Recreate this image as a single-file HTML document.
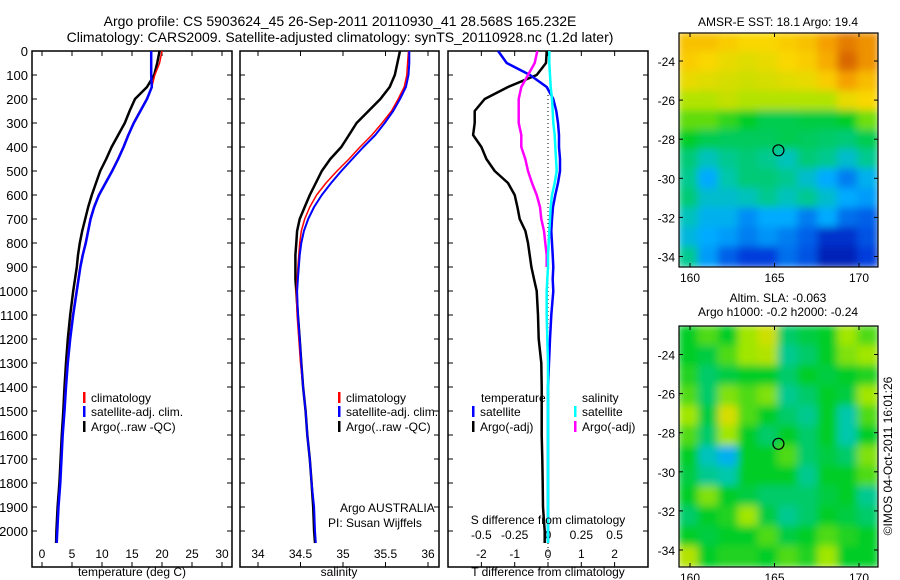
<!DOCTYPE html>
<html><head><meta charset="utf-8"><style>
body{margin:0;background:#fff;}
svg{display:block;font-family:"Liberation Sans",sans-serif;}
</style></head><body>
<svg id="c" width="900" height="580" viewBox="0 0 900 580" xmlns="http://www.w3.org/2000/svg">
<defs>
<filter id="bl" x="-5%" y="-5%" width="110%" height="110%"><feGaussianBlur stdDeviation="4"/></filter>
<clipPath id="cm1"><rect x="679" y="33" width="199" height="234"/></clipPath>
<clipPath id="cm2"><rect x="679" y="326" width="199" height="241"/></clipPath>
</defs>
<text x="340" y="26" font-size="14" text-anchor="middle">Argo profile: CS 5903624_45 26-Sep-2011 20110930_41 28.568S 165.232E</text>
<text x="340" y="42" font-size="14" text-anchor="middle">Climatology: CARS2009. Satellite-adjusted climatology: synTS_20110928.nc (1.2d later)</text>
<g id="g"></g>
<text x="340" y="512" font-size="12">Argo AUSTRALIA</text>
<text x="328" y="527" font-size="12">PI: Susan Wijffels</text>
<text x="548" y="524" font-size="12" text-anchor="middle">S difference from climatology</text>
<text x="132" y="576" font-size="12" text-anchor="middle">temperature (deg C)</text>
<text x="339" y="576" font-size="12" text-anchor="middle">salinity</text>
<text x="548" y="576" font-size="12" text-anchor="middle">T difference from climatology</text>
<text x="778" y="26" font-size="12" text-anchor="middle">AMSR-E SST: 18.1 Argo: 19.4</text>
<text x="778" y="302" font-size="12" text-anchor="middle">Altim. SLA: -0.063</text>
<text x="778" y="316" font-size="12" text-anchor="middle">Argo h1000: -0.2 h2000: -0.24</text>
<text transform="translate(892,456) rotate(-90)" font-size="12" text-anchor="middle">©IMOS 04-Oct-2011 16:01:26</text>
</svg>
<script>
const depths=[0,50,100,150,200,250,300,350,400,450,500,550,600,650,700,750,800,850,900,950,1000,1100,1200,1300,1400,1500,1600,1700,1800,1900,2000,2050];
const climT=[20.0,19.6,18.8,18.3,17.4,16.3,15.2,14.3,13.5,12.6,11.6,10.5,9.4,8.6,8.0,7.6,7.2,6.7,6.3,6.0,5.7,5.1,4.6,4.2,3.9,3.7,3.4,3.2,3.0,2.7,2.5,2.4];
const satT=[18.2,18.2,18.2,18.3,17.5,16.4,15.3,14.4,13.6,12.7,11.7,10.6,9.5,8.7,8.1,7.7,7.3,6.8,6.4,6.1,5.8,5.2,4.7,4.3,4.0,3.75,3.45,3.25,3.05,2.75,2.55,2.45];
const argoT=[19.6,19.2,18.7,17.5,15.5,14.6,13.8,12.7,11.6,10.7,9.7,9.0,8.3,7.7,7.2,6.7,6.3,6.0,5.8,5.5,5.2,4.7,4.3,4.0,3.75,3.55,3.3,3.1,2.9,2.6,2.4,2.35];
const climS=[35.77,35.76,35.75,35.72,35.65,35.57,35.46,35.34,35.2,35.07,34.93,34.8,34.69,34.61,34.55,34.51,34.49,34.48,34.47,34.46,34.45,34.46,34.48,34.5,34.53,34.56,34.58,34.61,34.63,34.66,34.67,34.68];
const satS=[35.78,35.78,35.77,35.74,35.67,35.59,35.49,35.38,35.24,35.11,34.98,34.86,34.75,34.66,34.59,34.54,34.51,34.49,34.48,34.47,34.46,34.47,34.49,34.51,34.53,34.56,34.58,34.61,34.63,34.66,34.67,34.68];
const argoS=[35.67,35.64,35.61,35.55,35.44,35.3,35.16,35.07,34.98,34.85,34.75,34.68,34.61,34.55,34.49,34.46,34.45,34.44,34.44,34.44,34.45,34.47,34.49,34.51,34.53,34.56,34.58,34.61,34.63,34.65,34.66,34.67];
const argoTd=[-0.04,-0.06,-0.34,-1.2,-1.9,-2.2,-2.2,-2.25,-2.0,-1.85,-1.6,-1.2,-1.0,-0.92,-0.85,-0.68,-0.6,-0.55,-0.5,-0.42,-0.34,-0.3,-0.28,-0.2,-0.19,-0.19,-0.19,-0.17,-0.16,-0.15,-0.1,-0.1];
const satTd=[-1.5,-1.24,-0.54,-0.04,0.16,0.25,0.3,0.33,0.33,0.36,0.36,0.3,0.22,0.15,0.12,0.1,0.12,0.14,0.16,0.14,0.16,0.1,0.06,0.03,0,0,0,0,0,0,0,0];
const argoSd=[-0.08,-0.1,-0.15,-0.2,-0.22,-0.22,-0.22,-0.2,-0.2,-0.17,-0.15,-0.12,-0.085,-0.06,-0.05,-0.03,-0.02,-0.01,-0.01,null,null,null,null,null,null,null,null,null,null,null,null,null];
const satSd=[0.01,0.01,0.015,0.02,0.03,0.035,0.04,0.05,0.055,0.06,0.065,0.05,0.03,0.02,0.015,0.01,0.005,0,0,-0.005,-0.01,-0.01,-0.005,0,0,0,0,0,0,0,0,0];
const depthTicks=[0,100,200,300,400,500,600,700,800,900,1000,1100,1200,1300,1400,1500,1600,1700,1800,1900,2000];
const tTicks=[0,5,10,15,20,25,30];
const sTicks=[34,34.5,35,35.5,36];
const tdTicks=[-2,-1,0,1,2];
const sdTicks=[-0.5,-0.25,0,0.25,0.5];
const sst=[[.74,.74,.72,.7,.7,.72,.74,.8,.85,.82],[.72,.7,.68,.67,.68,.7,.72,.78,.88,.82],[.68,.67,.66,.65,.66,.67,.68,.72,.8,.75],[.62,.62,.64,.62,.62,.62,.62,.62,.68,.7],[.56,.56,.53,.5,.47,.47,.48,.48,.5,.57],[.5,.47,.46,.46,.46,.47,.46,.45,.44,.47],[.44,.38,.42,.44,.42,.38,.44,.42,.36,.42],[.42,.3,.4,.44,.44,.42,.36,.3,.24,.32],[.44,.36,.36,.38,.42,.38,.42,.36,.3,.28],[.38,.32,.32,.26,.3,.3,.24,.3,.22,.2],[.34,.3,.28,.24,.27,.24,.2,.12,.12,.18],[.42,.28,.2,.15,.15,.22,.18,.08,.08,.15]];
const sla=[[.5,.55,.5,.6,.65,.45,.48,.5,.6,.55],[.5,.48,.55,.6,.62,.42,.45,.5,.58,.6],[.52,.45,.48,.5,.5,.45,.5,.48,.5,.52],[.55,.45,.58,.55,.58,.42,.45,.5,.48,.6],[.6,.48,.66,.55,.5,.45,.42,.5,.4,.55],[.55,.45,.6,.5,.45,.5,.45,.5,.4,.5],[.5,.38,.32,.5,.5,.55,.45,.48,.45,.58],[.48,.42,.4,.5,.5,.5,.42,.5,.5,.55],[.5,.58,.5,.48,.45,.45,.45,.48,.5,.42],[.45,.5,.52,.6,.48,.42,.45,.5,.48,.45],[.5,.48,.5,.5,.55,.48,.5,.55,.52,.5],[.62,.5,.52,.52,.5,.55,.52,.6,.5,.5]];
const latTicks=[-24,-26,-28,-30,-32,-34];
const lonTicks=[160,165,170];
const argoLon=165.232, argoLat=-28.568;

const NS='http://www.w3.org/2000/svg';
const G=document.getElementById('g');
function mk(t,a,p){const e=document.createElementNS(NS,t);for(const k in a)e.setAttribute(k,a[k]);(p||G).appendChild(e);return e;}
const yD=d=>51+d*0.24;
const P1={x0:32,x1:232,fx:v=>42+v*6};
const P2={x0:240,x1:439,fx:v=>258+(v-34)*85};
const P3={x0:448,x1:648,fx:v=>548+v*33.3,fs:v=>548+v*133.3};
const TOP=51,BOT=567;
function frame(P,name,labels){
  const r=mk('rect',{x:P.x0,y:TOP,width:P.x1-P.x0,height:BOT-TOP,fill:'none',stroke:'#000','stroke-width':1.5});
  
  
  depthTicks.forEach(d=>{
    const y=yD(d);
    mk('line',{x1:P.x0,x2:P.x0+5,y1:y,y2:y,stroke:'#000'});
    mk('line',{x1:P.x1-5,x2:P.x1,y1:y,y2:y,stroke:'#000'});
    if(labels){const t=mk('text',{x:P.x0-4,y:y+5,'font-size':13,'text-anchor':'end'});t.textContent=d;
      
      }
  });
}
function xticks(P,ticks,fx,ly,fmt,top){
  ticks.forEach(v=>{const x=fx(v);
    mk('line',{x1:x,x2:x,y1:BOT-5,y2:BOT,stroke:'#000'});
    if(top)mk('line',{x1:x,x2:x,y1:TOP,y2:TOP+5,stroke:'#000'});
    const t=mk('text',{x:x,y:ly,'font-size':12,'text-anchor':'middle'});t.textContent=fmt(v);
    
    
  });
}
function line(vals,fx,color,w,name){
  let d='';let pen=false;
  depths.forEach((dp,i)=>{const v=vals[i];if(v===null||v===undefined){pen=false;return;}
    d+=(pen?'L':'M')+fx(v).toFixed(1)+','+yD(dp).toFixed(1);pen=true;});
  const p=mk('path',{d:d,fill:'none',stroke:color,'stroke-width':w,'stroke-linejoin':'round'});
  
  
}
frame(P1,'temperature-panel',true);frame(P2,'salinity-panel',false);frame(P3,'difference-panel',false);
xticks(P1,tTicks,P1.fx,558,v=>v,true);
xticks(P2,sTicks,P2.fx,558,v=>v,true);
xticks(P3,tdTicks,P3.fx,558,v=>v,false);
sdTicks.forEach(v=>{const x=P3.fs(v);mk('line',{x1:x,x2:x,y1:TOP,y2:TOP+5,stroke:'#000'});
  const t=mk('text',{x:x,y:539,'font-size':12,'text-anchor':'middle'});t.textContent=v;
  
  });
mk('line',{x1:548,x2:548,y1:95,y2:BOT,stroke:'#000','stroke-dasharray':'1,3'});
line(argoT,P1.fx,'#000',2.5,'argo-temperature-line');
line(climT,P1.fx,'#f00',1.5,'clim-temperature-line');
line(satT,P1.fx,'#00f',2.5,'sat-temperature-line');
line(argoS,P2.fx,'#000',2.5,'argo-salinity-line');
line(climS,P2.fx,'#f00',1.5,'clim-salinity-line');
line(satS,P2.fx,'#00f',2,'sat-salinity-line');
line(argoTd,P3.fx,'#000',2.5,'argo-tdiff-line');
line(satTd,P3.fx,'#00f',2.5,'sat-tdiff-line');
line(argoSd,P3.fs,'#f0f',2.5,'argo-sdiff-line');
line(satSd,P3.fs,'#0ff',2.5,'sat-sdiff-line');
function leg(x,y,color,label){mk('rect',{x:x,y:y-10,width:2.5,height:11,fill:color});
  const t=mk('text',{x:x+8,y:y,'font-size':12});t.textContent=label;
  
  }
leg(83,402,'#f00','climatology');leg(83,416,'#00f','satellite-adj. clim.');leg(83,431,'#000','Argo(..raw -QC)');
leg(338,402,'#f00','climatology');leg(338,416,'#00f','satellite-adj. clim.');leg(338,431,'#000','Argo(..raw -QC)');
{const t=mk('text',{x:481,y:402,'font-size':12});t.textContent='temperature';


const s=mk('text',{x:582,y:402,'font-size':12});s.textContent='salinity';

}
leg(472,416,'#00f','satellite');leg(472,431,'#000','Argo(-adj)');
leg(574,416,'#0ff','satellite');leg(574,431,'#f0f','Argo(-adj)');
const stops=[[0,0,0,140],[0.15,0,60,220],[0.3,0,170,255],[0.4,0,200,170],[0.5,0,205,40],[0.6,160,230,0],[0.7,250,215,0],[0.8,245,160,0],[0.9,210,90,0],[1,170,40,0]];
function cmap(v){v=Math.max(0,Math.min(1,v));
  for(let i=1;i<stops.length;i++){if(v<=stops[i][0]){const a=stops[i-1],b=stops[i];const t=(v-a[0])/(b[0]-a[0]);
    return 'rgb('+[1,2,3].map(k=>Math.round(a[k]+(b[k]-a[k])*t)).join(',')+')';}}
  return 'rgb(170,40,0)';}
function map(grid,y0,h,clip,name,lat24){
  const x0=679,w=199;const nr=grid.length,nc=grid[0].length;const cw=w/nc,ch=h/nr;
  const gc=mk('g',{'clip-path':'url(#'+clip+')'});
  
  
  const gb=mk('g',{filter:'url(#bl)'},gc);
  grid.forEach((row,i)=>row.forEach((v,j)=>{
    const r=mk('rect',{x:x0+j*cw-1,y:y0+i*ch-1,width:cw+2,height:ch+2,fill:cmap(v)},gb);
    
    
  }));
  mk('rect',{x:x0,y:y0,width:w,height:h,fill:'none',stroke:'#000','stroke-width':1.2});
  const fx=lon=>690+(lon-160)*16.9, fy=lat=>lat24+(-24-lat)*19.55;
  latTicks.forEach(l=>{const y=fy(l);mk('line',{x1:x0,x2:x0+4,y1:y,y2:y,stroke:'#000'});mk('line',{x1:x0+w-4,x2:x0+w,y1:y,y2:y,stroke:'#000'});
    const t=mk('text',{x:x0-4,y:y+5,'font-size':12,'text-anchor':'end'});t.textContent=l;
    
    });
  lonTicks.forEach(l=>{const x=fx(l);mk('line',{x1:x,x2:x,y1:y0,y2:y0+4,stroke:'#000'});mk('line',{x1:x,x2:x,y1:y0+h-4,y2:y0+h,stroke:'#000'});
    const t=mk('text',{x:x,y:y0+h+15,'font-size':12,'text-anchor':'middle'});t.textContent=l;
    
    });
  const c=mk('circle',{cx:fx(argoLon),cy:fy(argoLat),r:5.5,fill:'none',stroke:'#000','stroke-width':1.2});
  
  
}
map(sst,33,234,'cm1','sst-map',61);
map(sla,326,241,'cm2','sla-map',354.5);
</script>
</body></html>
